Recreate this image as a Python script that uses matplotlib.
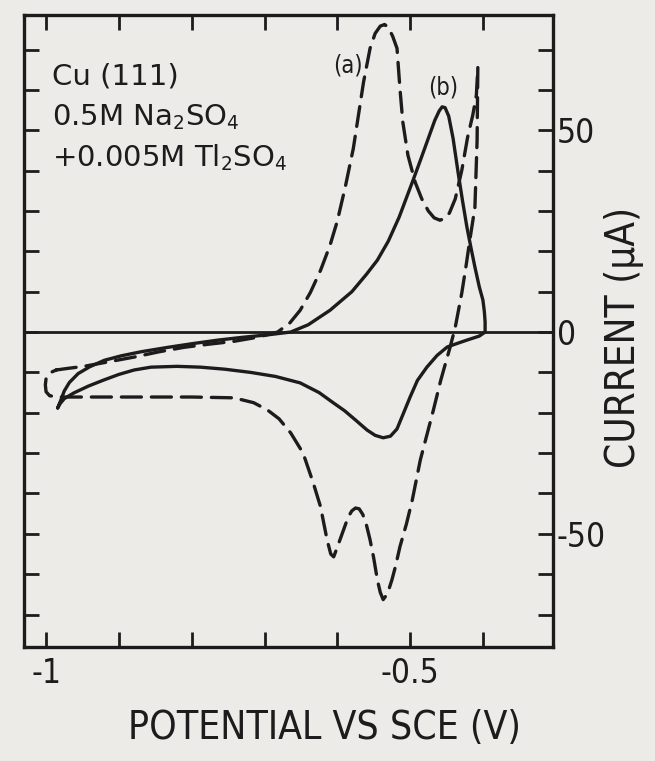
import matplotlib
matplotlib.use("Agg")
import matplotlib.pyplot as plt

# curve (b): solid line (potential V, current uA)
b_pot = [-0.984, -0.980, -0.975, -0.968, -0.956, -0.940, -0.920, -0.897, -0.870,
         -0.833, -0.800, -0.764, -0.730, -0.696, -0.664, -0.640, -0.610, -0.580,
         -0.560, -0.545, -0.530, -0.515, -0.496, -0.485, -0.474, -0.466, -0.460,
         -0.456, -0.452, -0.447, -0.441, -0.434, -0.428, -0.422, -0.416, -0.411,
         -0.405, -0.400, -0.398, -0.397, -0.397,
         -0.405, -0.422, -0.435, -0.449, -0.463, -0.477, -0.490, -0.500, -0.510,
         -0.518, -0.527, -0.537, -0.548, -0.559, -0.575, -0.590, -0.605, -0.625,
         -0.651, -0.685, -0.719, -0.755, -0.788, -0.820, -0.856, -0.879, -0.900,
         -0.921, -0.942, -0.962, -0.975, -0.981, -0.984]
b_cur = [-18.8, -17.0, -14.6, -12.5, -10.3, -8.6, -7.0, -5.9, -4.9,
         -3.8, -2.9, -2.0, -1.3, -0.7, 0.0, 1.8, 5.4, 10.0,
         14.3, 17.8, 22.5, 28.5, 37.6, 43.0, 48.5, 52.5, 54.8,
         55.8, 55.6, 53.5, 48.0, 39.4, 32.5, 26.0, 20.5, 16.1,
         11.2, 7.9, 5.0, 2.5, 0.0,
         -1.0, -2.0, -2.8, -3.7, -5.8, -8.7, -12.0, -16.1, -20.5,
         -24.0, -25.8, -26.2, -25.6, -24.3, -21.8, -19.5, -17.6, -15.0,
         -12.6, -11.0, -10.0, -9.2, -8.7, -8.5, -8.7, -9.4, -10.5,
         -11.9, -13.4, -15.1, -16.5, -17.8, -18.8]

# curve (a): dashed line
a_pot = [-0.986, -0.970, -0.948, -0.915, -0.879, -0.845, -0.811, -0.776, -0.742,
         -0.710, -0.682, -0.665, -0.651, -0.637, -0.623, -0.610, -0.600, -0.589,
         -0.578, -0.571, -0.564, -0.555, -0.548, -0.541, -0.535, -0.530, -0.524,
         -0.518, -0.514, -0.510, -0.503, -0.493, -0.484, -0.475, -0.467, -0.459,
         -0.452, -0.446, -0.438, -0.429, -0.421, -0.414, -0.409, -0.407,
         -0.408, -0.411, -0.418, -0.423, -0.429, -0.438, -0.445, -0.451, -0.458,
         -0.468, -0.477, -0.486, -0.497, -0.505, -0.514, -0.520, -0.525, -0.531,
         -0.537, -0.541, -0.545, -0.550, -0.555, -0.560, -0.565, -0.570, -0.575,
         -0.580, -0.585, -0.593, -0.600, -0.605, -0.609, -0.614, -0.619, -0.623,
         -0.633, -0.647, -0.664, -0.680, -0.696, -0.715, -0.742, -0.800, -0.856,
         -0.920, -0.979, -0.995, -1.000, -1.001, -1.000, -0.996, -0.986]
a_cur = [-9.4, -9.0, -8.5, -7.4, -6.2, -4.9, -3.8, -3.0, -2.3,
         -1.3, 0.0, 2.3, 5.4, 9.8, 15.3, 21.5, 27.5, 36.0,
         45.5, 53.7, 61.9, 70.3, 74.0, 75.8, 76.2, 75.5, 73.3,
         70.3, 60.4, 52.0, 43.8, 37.1, 33.0, 30.0, 28.3, 27.7,
         28.2, 29.5, 33.0, 40.1, 48.3, 53.7, 58.7, 65.6,
         47.5, 30.9, 22.8, 16.6, 9.7, 1.2, -3.7, -7.5, -12.0,
         -19.3, -25.5, -31.7, -41.6, -47.5, -53.2, -58.0, -61.4, -64.8,
         -66.3, -64.5, -61.4, -56.0, -51.5, -47.8, -45.2, -43.8, -43.6,
         -44.3, -45.8, -49.8, -53.3, -55.7, -55.0, -51.5, -47.0, -43.3,
         -37.4, -30.0, -25.0, -21.5, -19.3, -17.5, -16.3, -16.1, -16.1,
         -16.1, -16.1, -15.8, -14.8, -13.1, -11.5, -10.2, -9.4]

x_ticks = [-1.0, -0.9, -0.8, -0.7, -0.6, -0.5, -0.4]
x_ticklabels = ["-1", "", "", "", "", "-0.5", ""]
y_ticks = [-70, -60, -50, -40, -30, -20, -10, 0, 10, 20, 30, 40, 50, 60, 70]
y_ticklabels = ["", "", "-50", "", "", "", "", "0", "", "", "", "", "50", "", ""]

ink = "#1c1c1c"
bg = "#ecebe8"
plt.rcParams["font.family"] = ["DejaVu Sans"]
plt.rcParams["font.stretch"] = "condensed"

fig = plt.figure(figsize=(6.55, 7.61), dpi=100, facecolor=bg)
ax = fig.add_axes([0.037, 0.150, 0.807, 0.830])
ax.set_facecolor(bg)

ax.axhline(0, color=ink, lw=2.0)
ax.plot(b_pot, b_cur, color=ink, lw=2.4, solid_joinstyle="round", solid_capstyle="round")
ax.plot(a_pot, a_cur, color=ink, lw=2.4, linestyle=(0, (6, 3)),
        dash_capstyle="round", dash_joinstyle="round")

ax.set_xlim(-1.03, -0.304)
ax.set_ylim(-78, 78.5)

ax.set_xticks(x_ticks)
ax.set_xticklabels(x_ticklabels)
ax.set_yticks(y_ticks)
ax.set_yticklabels(y_ticklabels)
ax.tick_params(direction="in", length=11, width=2, colors=ink, labelsize=24,
               top=True, right=True, left=True, bottom=True,
               labelleft=False, labelright=True)
ax.tick_params(axis="x", pad=7)
ax.tick_params(axis="y", pad=3)
for s in ax.spines.values():
    s.set_linewidth(2.4)
    s.set_color(ink)

ax.set_xlabel("POTENTIAL VS SCE (V)", fontsize=28, color=ink)
ax.xaxis.set_label_coords(0.569, -0.098)
ax.yaxis.set_label_position("right")
ax.set_ylabel("CURRENT (μA)", fontsize=29, color=ink)
ax.yaxis.set_label_coords(1.097, 0.49)

ax.text(0.052, 0.891, "Cu (111)", transform=ax.transAxes, fontsize=21, color=ink,
        fontstretch="normal")
ax.text(0.052, 0.826, "0.5M Na$_2$SO$_4$", transform=ax.transAxes, fontsize=21, color=ink,
        fontstretch="normal")
ax.text(0.052, 0.761, "+0.005M Tl$_2$SO$_4$", transform=ax.transAxes, fontsize=21, color=ink,
        fontstretch="normal")
ax.text(-0.585, 66, "(a)", fontsize=17, color=ink, ha="center", va="center")
ax.text(-0.455, 60.5, "(b)", fontsize=17, color=ink, ha="center", va="center")

fig.savefig("out.png", dpi=100, facecolor=bg)
